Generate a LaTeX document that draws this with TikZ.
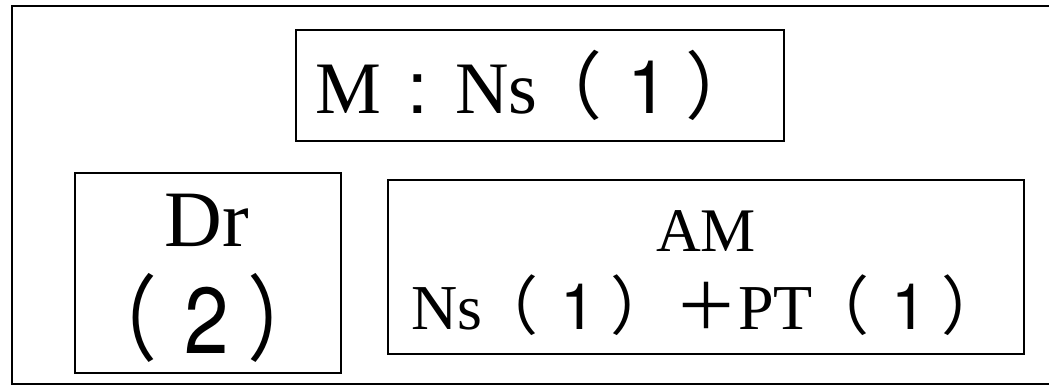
\documentclass[tikz,border=0pt]{standalone}
\usepackage{fontspec}
\setmainfont{Liberation Serif}
\newfontfamily\fwsans{TeX Gyre Heros}
\newfontfamily\cjk{Noto Sans CJK SC}
\newcommand\fwlp{\makebox[1em][r]{\cjk （\hspace{0.12em}}}
\newcommand\fwrp{\makebox[1em][l]{\cjk ）}}
\newcommand\fwdig[1]{\makebox[1em][c]{\fwsans #1}}
\newcommand\fwcolon{\makebox[1em][c]{\fwsans :}}
\newcommand\fwplus{\makebox[1em][c]{\cjk ＋}}
\begin{document}
\begin{tikzpicture}[x=1pt,y=-1pt,
  frame/.style={draw,line width=2.6pt,inner sep=0pt},
  lbl/.style={inner sep=0pt,anchor=base west}]
\useasboundingbox (0,0) rectangle (1049,386);
% outer frame (right edge lies beyond the picture)
\node[frame,minimum width=1060pt,minimum height=378pt] (outer) at (542,195) {};
% boxes
\node[frame,minimum width=488pt,minimum height=111pt] (top) at (540,85.5) {};
\node[frame,minimum width=266pt,minimum height=200pt] (left) at (208,273) {};
\node[frame,minimum width=636pt,minimum height=174pt] (right) at (706,267) {};
% texts
\node[lbl,font=\fontsize{74}{74}\selectfont] (ttop) at (315,113) {M\fwcolon Ns\fwlp\fwdig{1}\fwrp};
\node[anchor=base,inner sep=0pt,font=\fontsize{80}{80}\selectfont] (tdr) at (207,246) {Dr};
\node[anchor=base,inner sep=0pt,font=\fontsize{80}{80}\selectfont] (tdr2) at (207,353) {\scalebox{1}[1.17]{\fwlp\fwdig{2}\fwrp}};
\node[anchor=base,inner sep=0pt,font=\fontsize{62}{62}\selectfont] (tam) at (706,251) {AM};
\node[lbl,font=\fontsize{64}{64}\selectfont] (tns) at (411,329) {Ns\fwlp\fwdig{1}\fwrp\fwplus PT\fwlp\fwdig{1}\fwrp};
\end{tikzpicture}
\end{document}
